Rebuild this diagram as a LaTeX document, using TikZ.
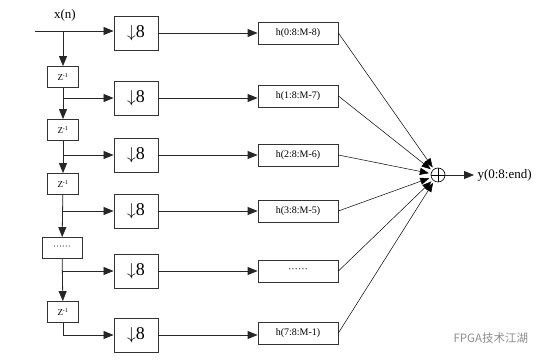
\documentclass[tikz,border=0pt]{standalone}
\usepackage{fontspec}
\setmainfont{Liberation Serif}
\newfontfamily\cjkfont{Noto Sans CJK SC}
\usetikzlibrary{arrows.meta,positioning,calc}

\begin{document}
\begin{tikzpicture}[x=1pt, y=-1pt,
    downbox/.style={rectangle, draw=black!80, line width=0.9pt, minimum width=44pt,
                    minimum height=34pt, inner sep=0pt, font=\fontsize{18}{18}\selectfont},
    delaybox/.style={rectangle, draw=black!80, line width=0.8pt, minimum width=31pt,
                    minimum height=21pt, inner sep=0pt, font=\fontsize{9}{9}\selectfont},
    filtbox/.style={rectangle, draw=black!80, line width=0.8pt, minimum width=80pt,
                    minimum height=22pt, inner sep=0pt, font=\fontsize{10}{10}\selectfont},
    sig/.style={draw=black!85, line width=0.8pt, -{Triangle[length=10pt,width=8pt]}},
    sumline/.style={draw=black, line width=0.5pt, shorten >=2pt, -{Triangle[length=9pt,width=7pt]}}
  ]
  \useasboundingbox (0,0) rectangle (555,363);

  % input
  \coordinate (in) at (35,31);
  \node[font=\fontsize{13}{13}\selectfont] (xn) at (65,15) {x(n)};

  % delay chain
  \node[delaybox] (z1) at (63,77)  {Z\textsuperscript{-1}};
  \node[delaybox] (z2) at (63,130) {Z\textsuperscript{-1}};
  \node[delaybox] (z3) at (63,184) {Z\textsuperscript{-1}};
  \node[delaybox, minimum width=40pt] (zd) at (62,248) {\textperiodcentered\textperiodcentered\textperiodcentered\textperiodcentered\textperiodcentered\textperiodcentered};
  \node[delaybox] (z4) at (63,312) {Z\textsuperscript{-1}};

  % branch points
  \coordinate (b0) at (63,31);
  \coordinate (b1) at (63,98);
  \coordinate (b2) at (63,155);
  \coordinate (b3) at (63,211);
  \coordinate (b4) at (63,271);

  % decimators
  \node[downbox] (d0) at (136,33)  {$\downarrow$8};
  \node[downbox] (d1) at (136,98)  {$\downarrow$8};
  \node[downbox] (d2) at (136,155) {$\downarrow$8};
  \node[downbox] (d3) at (136,211) {$\downarrow$8};
  \node[downbox] (d4) at (136,271) {$\downarrow$8};
  \node[downbox] (d5) at (136,335) {$\downarrow$8};

  % polyphase filters
  \node[filtbox] (h0) at (298,33)  {h(0:8:M-8)};
  \node[filtbox] (h1) at (298,96)  {h(1:8:M-7)};
  \node[filtbox] (h2) at (298,155) {h(2:8:M-6)};
  \node[filtbox] (h3) at (298,211) {h(3:8:M-5)};
  \node[filtbox] (h4) at (298,271) {\textperiodcentered\textperiodcentered\textperiodcentered\textperiodcentered\textperiodcentered\textperiodcentered};
  \node[filtbox] (h5) at (298,333) {h(7:8:M-1)};

  % adder and output
  \node[circle, draw, line width=0.6pt, minimum size=14pt, inner sep=0pt,
        path picture={\draw[line width=0.6pt] (path picture bounding box.north) -- (path picture bounding box.south)
                      (path picture bounding box.west) -- (path picture bounding box.east);}] (sum) at (438,175) {};
  \node[anchor=west, font=\fontsize{13}{13}\selectfont] (y) at (474,175) {y(0:8:end)};

  % watermark
  \node[anchor=west, text=black!45, font=\cjkfont\fontsize{11.5}{11.5}\selectfont] (wm) at (450,338) {FPGA技术江湖};

  % connectors
  \draw[sig] (in) -- (d0.west |- in);
  \draw[sig] (b0) -- (z1);
  \draw[sig] (z1) -- (z2);
  \draw[sig] (z2) -- (z3);
  \draw[sig] (z3) -- (zd);
  \draw[sig] (zd) -- (z4);
  \draw[sig] (b1) -- (d1);
  \draw[sig] (b2) -- (d2);
  \draw[sig] (b3) -- (d3);
  \draw[sig] (b4) -- (d4);
  \draw[sig] (z4.south) |- (d5);
  \foreach \i in {0,...,5} {
    \draw[sig] (d\i) -- (h\i.west |- d\i);
    \draw[sumline] (h\i.east) -- (sum);
  }
  \draw[sig] (sum) -- (y);
\end{tikzpicture}
\end{document}
